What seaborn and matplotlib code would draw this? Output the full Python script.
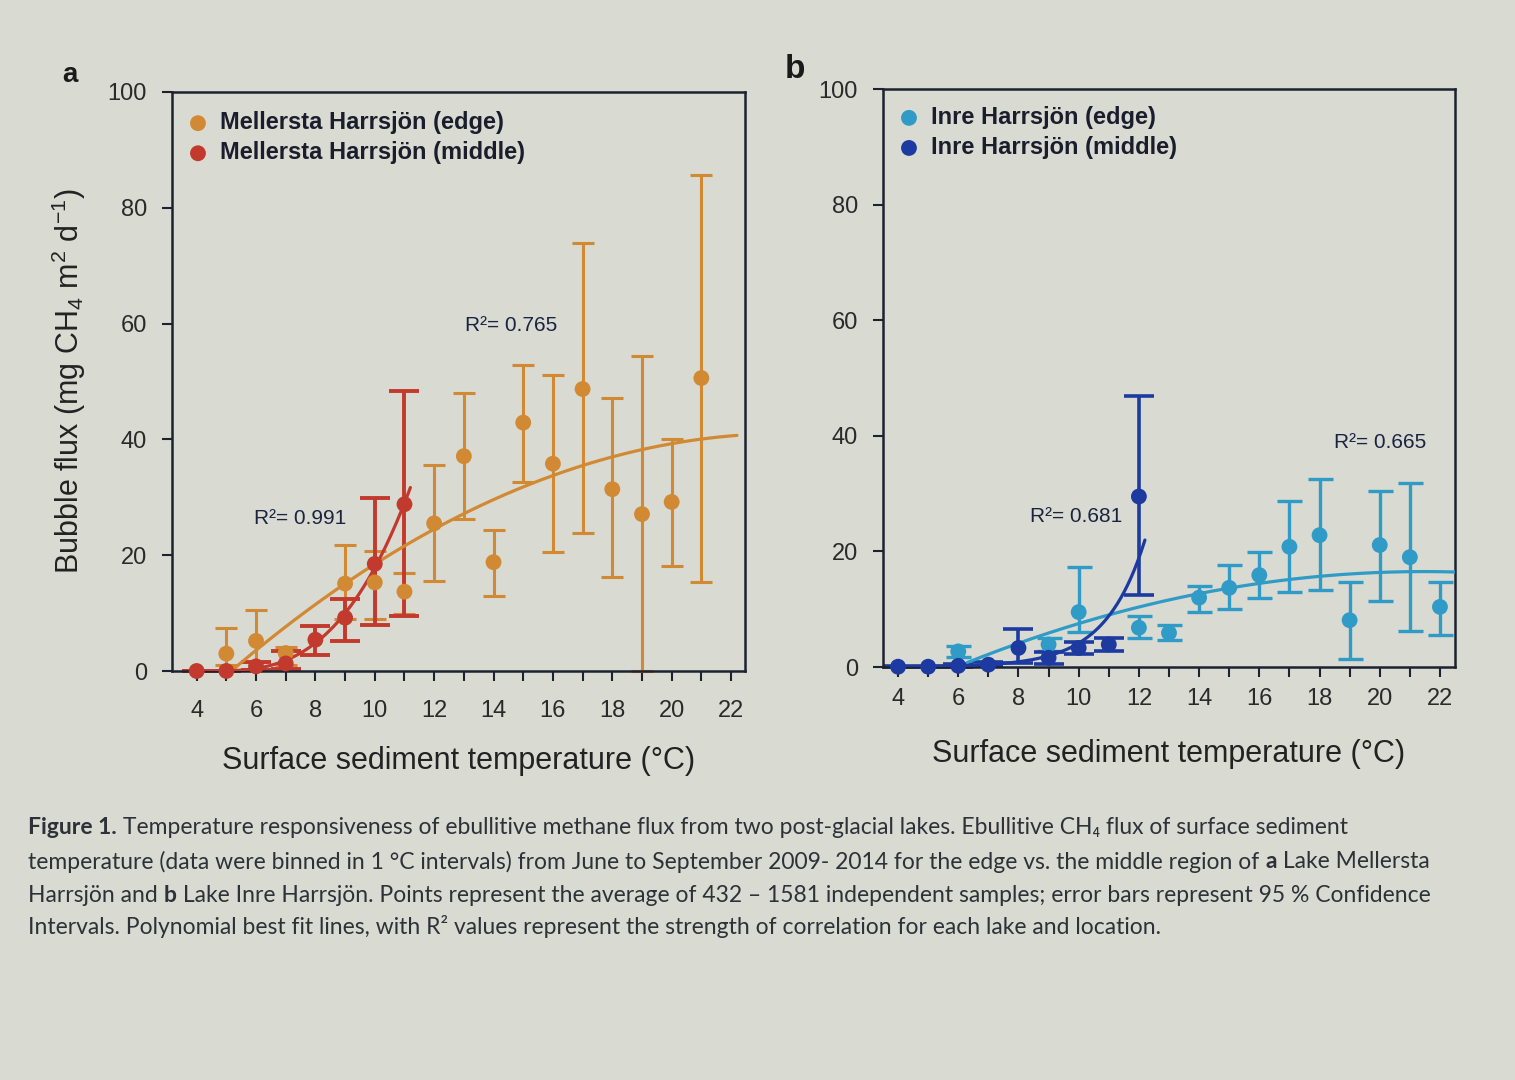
import numpy as np
import pandas as pd
import matplotlib
matplotlib.use("Agg")
import matplotlib.pyplot as plt
import seaborn as sns

# ---------------- data ----------------
# Panel a: Mellersta Harrsjön
a_edge_x = [5, 6, 7, 9, 10, 11, 12, 13, 14, 15, 16, 17, 18, 19, 20, 21]
a_edge_y = [3.0, 5.2, 3.1, 15.1, 15.3, 13.7, 25.5, 37.1, 18.8, 42.9, 35.8, 48.7, 31.4, 27.1, 29.2, 50.6]
a_edge_lo = [1.0, 1.6, 1.0, 9.0, 9.0, 9.8, 15.5, 26.2, 13.0, 32.7, 20.5, 23.8, 16.2, 0.0, 18.2, 15.3]
a_edge_hi = [7.4, 10.6, 4.2, 21.8, 20.8, 16.9, 35.5, 48.0, 24.3, 52.9, 51.2, 73.9, 47.1, 54.4, 40.0, 85.7]

a_mid_x = [4, 5, 6, 7, 8, 9, 10, 11]
a_mid_y = [0.0, 0.0, 0.8, 1.3, 5.4, 9.2, 18.5, 28.8]
a_mid_lo = [0.0, 0.0, 0.2, 0.3, 2.8, 5.1, 8.0, 9.5]
a_mid_hi = [0.0, 0.0, 1.5, 3.5, 7.7, 12.4, 29.8, 48.4]

# Panel b: Inre Harrsjön
b_edge_x = [6, 9, 10, 12, 13, 14, 15, 16, 17, 18, 19, 20, 21, 22]
b_edge_y = [2.7, 3.9, 9.5, 6.8, 5.9, 12.0, 13.7, 15.9, 20.8, 22.8, 8.1, 21.1, 19.0, 10.4]
b_edge_lo = [1.8, 2.7, 6.0, 5.0, 4.6, 9.6, 10.0, 12.0, 12.9, 13.3, 1.3, 11.4, 6.3, 5.6]
b_edge_hi = [3.7, 5.0, 17.3, 8.8, 7.2, 14.0, 17.7, 19.9, 28.8, 32.5, 14.7, 30.5, 31.9, 14.7]

b_mid_x = [4, 5, 6, 7, 8, 9, 10, 11, 12]
b_mid_y = [0.05, 0.05, 0.2, 0.4, 3.3, 1.6, 3.3, 3.9, 29.5]
b_mid_lo = [0.0, 0.0, 0.0, 0.1, 0.7, 0.6, 2.3, 2.8, 12.4]
b_mid_hi = [0.1, 0.1, 0.6, 0.8, 6.6, 2.6, 4.3, 5.0, 46.9]

labels_a = ["Mellersta Harrsjön (edge)", "Mellersta Harrsjön (middle)"]
labels_b = ["Inre Harrsjön (edge)", "Inre Harrsjön (middle)"]
r2_a = ["R²= 0.765", "R²= 0.991"]
r2_b = ["R²= 0.665", "R²= 0.681"]
xtick_vals = list(range(4, 23))
ytick_vals = [0, 20, 40, 60, 80, 100]

caption = [
    [("Figure 1.", True), (" Temperature responsiveness of ebullitive methane flux from two post-glacial lakes. Ebullitive CH₄ flux of surface sediment", False)],
    [("temperature (data were binned in 1 °C intervals) from June to September 2009- 2014 for the edge vs. the middle region of ", False), ("a", True), (" Lake Mellersta", False)],
    [("Harrsjön and ", False), ("b", True), (" Lake Inre Harrsjön. Points represent the average of 432 – 1581 independent samples; error bars represent 95 % Confidence", False)],
    [("Intervals. Polynomial best fit lines, with R² values represent the strength of correlation for each lake and location.", False)],
]

# ---------------- style ----------------
BG = "#d9dad2"
INK = "#1c2230"
C_A_EDGE = "#d18a33"
C_A_MID = "#c23a2e"
C_B_EDGE = "#2f9bc6"
C_B_MID = "#1c3aa0"

sns.set_theme(style="ticks")
plt.rcParams['font.family'] = ['Liberation Sans', 'DejaVu Sans']
plt.rcParams['mathtext.fontset'] = 'custom'
plt.rcParams['mathtext.rm'] = 'Liberation Sans'
plt.rcParams['mathtext.it'] = 'Liberation Sans:italic'

W, H = 1515, 1080
fig = plt.figure(figsize=(W / 100, H / 100), dpi=100, facecolor=BG)
axa = fig.add_axes([172 / W, 1 - 671 / H, (745 - 172) / W, (671 - 92) / H])
axb = fig.add_axes([883 / W, 1 - 667 / H, (1455 - 883) / W, (667 - 89) / H])


def poly_fit(x, y, order):
    coef = np.polyfit(x, y, order)
    return lambda t: np.polyval(coef, t)


def exp_fit(x, y):
    m = y > 0
    k, c = np.polyfit(x[m], np.log(y[m]), 1)
    return lambda t: np.exp(c + k * t)


def draw_series(ax, x, y, lo, hi, color, label, fit, xr, cap, elw):
    x = np.asarray(x, float)
    y = np.asarray(y, float)
    lo = np.asarray(lo, float)
    hi = np.asarray(hi, float)
    ax.errorbar(x, y, yerr=[np.clip(y - lo, 0, None), np.clip(hi - y, 0, None)], fmt='none',
                ecolor=color, elinewidth=elw, capsize=cap, capthick=elw, zorder=2, clip_on=False)
    f = poly_fit(x, y, fit) if fit != 'exp' else exp_fit(x, y)
    xs = np.linspace(xr[0], xr[1], 300)
    sns.lineplot(x=xs, y=f(xs), ax=ax, color=color, lw=2.3, zorder=3, legend=False)
    sns.scatterplot(x=x, y=y, ax=ax, color=color, s=130, edgecolor='none',
                    label=label, zorder=4, clip_on=False)


draw_series(axa, a_edge_x, a_edge_y, a_edge_lo, a_edge_hi, C_A_EDGE, labels_a[0], 2, (5.0, 22.2), 8, 2.2)
draw_series(axa, a_mid_x, a_mid_y, a_mid_lo, a_mid_hi, C_A_MID, labels_a[1], 3, (4.0, 11.2), 11, 2.8)
draw_series(axb, b_edge_x, b_edge_y, b_edge_lo, b_edge_hi, C_B_EDGE, labels_b[0], 2, (6.3, 22.5), 9, 2.4)
draw_series(axb, b_mid_x, b_mid_y, b_mid_lo, b_mid_hi, C_B_MID, labels_b[1], 'exp', (4.0, 12.2), 11, 2.6)

for ax, xl, lab_pad, xlab_pad, ydrop in [(axa, (3.17, 22.47), 14, 17, 0.009),
                                          (axb, (3.5, 22.5), 8, 21, 0.005)]:
    ax.set_facecolor(BG)
    ax.set_xlim(*xl)
    ax.set_ylim(0, 100)
    ax.set_xticks(xtick_vals)
    ax.set_xticklabels([str(v) if v % 2 == 0 else "" for v in xtick_vals])
    ax.set_yticks(ytick_vals)
    ax.set_yticklabels([str(v) for v in ytick_vals])
    for s in ax.spines.values():
        s.set_visible(True)
        s.set_color(INK)
        s.set_linewidth(1.8)
    ax.tick_params(axis='x', direction='out', length=7, width=1.5, color=INK,
                   labelsize=17, labelcolor="#2a2a2a", pad=lab_pad)
    ax.tick_params(axis='y', direction='out', length=7, width=1.5, color=INK,
                   labelsize=17, labelcolor="#2a2a2a", pad=11)
    ax.set_xlabel("Surface sediment temperature (°C)", fontsize=22, color="#222222",
                  labelpad=xlab_pad)
    ax.set_ylabel("")
    leg = ax.legend(loc='upper left', bbox_to_anchor=(0.0, 1.0 - ydrop), frameon=False,
                    handlelength=1.0, handletextpad=0.45, labelspacing=0.3,
                    borderaxespad=0.2, borderpad=0.4, prop={'weight': 'bold', 'size': 17})
    for t in leg.get_texts():
        t.set_color("#1a1d2c")

axa.set_ylabel("Bubble flux (mg CH$_4$ m$^2$ d$^{-1}$)", fontsize=22, color="#222222", labelpad=14)

axa.text(14.6, 59.6, r2_a[0], fontsize=15, color="#1a2440", ha='center', va='center')
axa.text(7.5, 26.4, r2_a[1], fontsize=15, color="#1a2440", ha='center', va='center')
axb.text(20.0, 38.9, r2_b[0], fontsize=15, color="#1a2440", ha='center', va='center')
axb.text(9.9, 26.1, r2_b[1], fontsize=15, color="#1a2440", ha='center', va='center')

fig.text(70 / W, 1 - 75 / H, "a", fontsize=20, fontweight='bold', color="#1a1a1a",
         ha='center', va='center')
fig.text(795 / W, 1 - 70 / H, "b", fontsize=24, fontweight='bold', color="#1a1a1a",
         ha='center', va='center')

# ---------------- caption ----------------
cap_family = ['Lato', 'DejaVu Sans']
cap_color = "#2e3138"
cap_y = [828, 862, 895, 927]
x0 = 28
fig.canvas.draw()
r = fig.canvas.get_renderer()
for yy, segs in zip(cap_y, caption):
    xx = x0
    for txt, bold in segs:
        t = fig.text(xx / W, 1 - yy / H, txt, fontsize=16.5, fontweight='bold' if bold else 'normal',
                     family=cap_family, color=cap_color, ha='left', va='center')
        xx = t.get_window_extent(renderer=r).x1

fig.savefig("out.png", dpi=100, facecolor=BG)
